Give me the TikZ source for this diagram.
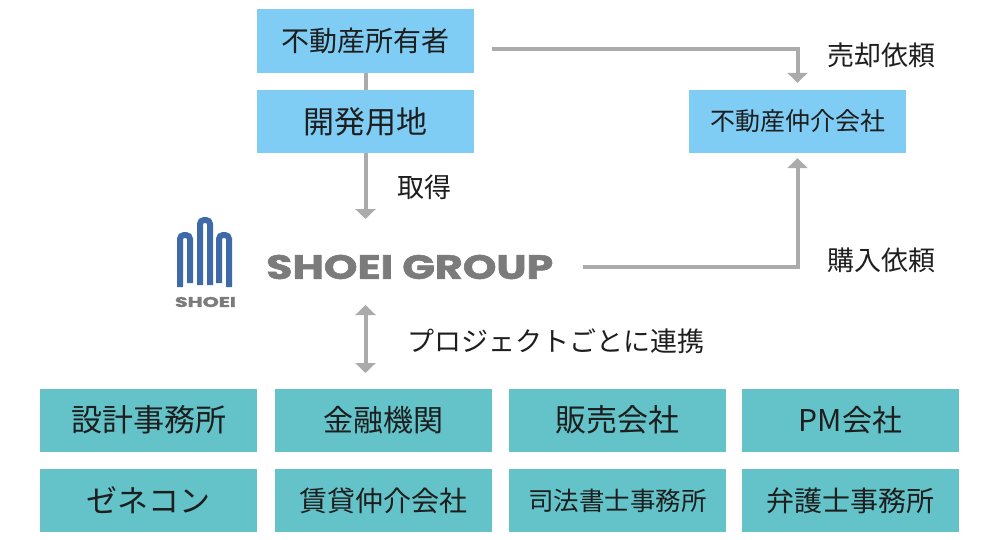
\documentclass[tikz,border=0pt]{standalone}
\usepackage{fontspec}
\setmainfont{Noto Sans CJK JP}
\newfontfamily\logofont{Poppins}[BoldFeatures={FakeBold=1.5}]
\usepackage{graphicx}
\usetikzlibrary{arrows.meta}
\usetikzlibrary{calc}
\definecolor{skyblue}{HTML}{7FCDF4}
\definecolor{partnerteal}{HTML}{63C3C8}
\definecolor{arrowgray}{HTML}{ABABAB}
\definecolor{logoblue}{HTML}{3E6AA7}
\definecolor{logogray}{HTML}{7B7B7B}
\definecolor{inktext}{HTML}{1E1E1E}
\newcommand{\px}[1]{\fontsize{#1pt}{#1pt}\selectfont}

\begin{document}
\begin{tikzpicture}[x=1pt, y=-1pt,
  box/.style={minimum width=217pt, minimum height=63pt, inner sep=0pt, text=inktext},
  ownbox/.style={box, fill=skyblue},
  partnerbox/.style={box, fill=partnerteal},
  flow/.style={line width=4pt, color=arrowgray},
  note/.style={anchor=west, inner sep=0pt, text=inktext, font=\px{27}},
  tower/.style={logoblue, line width=6pt, rounded corners=4pt},
  >={Triangle[width=20pt,length=10pt]}]
\useasboundingbox (0,0) rectangle (1000,540);
\node[ownbox, minimum height=64pt, font=\px{28}] (owner) at (365.5,41) {不動産所有者};
\node[ownbox, font=\px{31}] (land) at (365.5,121.5) {開発用地};
\node[ownbox, font=\px{25}] (broker) at (797.5,121.5) {不動産仲介会社};
\draw[tower] (180,287) -- (180,235) -- (190,235) -- (190,283);
\draw[tower] (200,285) -- (200,220) -- (210,220) -- (210,285);
\draw[tower] (219,283) -- (219,235) -- (229,235) -- (229,287);
\node[text=logogray, inner sep=0pt] (mark) at (205.5,302) {\resizebox{61pt}{10pt}{\logofont\bfseries SHOEI}};
\node[anchor=west, inner sep=0pt, text=logogray] (group) at (266,267) {\resizebox{287pt}{24pt}{\logofont\bfseries SHOEI GROUP}};
\node[partnerbox, font=\px{31}] (design) at (148.5,420) {設計事務所};
\node[partnerbox, font=\px{30}] (bank) at (383.5,420) {金融機関};
\node[partnerbox, font=\px{31}] (sales) at (617.5,420) {販売会社};
\node[partnerbox, font=\px{30}] (pm) at (850.5,420) {PM会社};
\node[partnerbox, font=\px{31}] (builder) at (148.5,500.5) {ゼネコン};
\node[partnerbox, font=\px{28}] (lease) at (383.5,500.5) {賃貸仲介会社};
\node[partnerbox, font=\px{25.5}] (scrivener) at (617.5,500.5) {司法書士事務所};
\node[partnerbox, font=\px{28}] (lawyer) at (850.5,500.5) {弁護士事務所};
\node[note] (sell) at (827,55) {売却依頼};
\node[note] (buy) at (827,260) {購入依頼};
\node[note] (acq) at (397,187) {取得};
\node[note] (link) at (407,341) {プロジェクトごとに連携};
\coordinate (landtip) at (365.5,219);
\coordinate (linktop) at (365.5,305);
\coordinate (linkbot) at (365.5,373);
\draw[flow] (owner) -- (land);
\draw[flow, ->] (land) -- (landtip);
\draw[flow, ->] ([xshift=18pt,yshift=-8pt]owner.east) -| ([yshift=7pt]broker.north);
\draw[flow, ->] ([xshift=29pt]group.east) -| ([yshift=-5pt]broker.south);
\draw[flow, <->] (linktop) -- (linkbot);
\end{tikzpicture}
\end{document}
